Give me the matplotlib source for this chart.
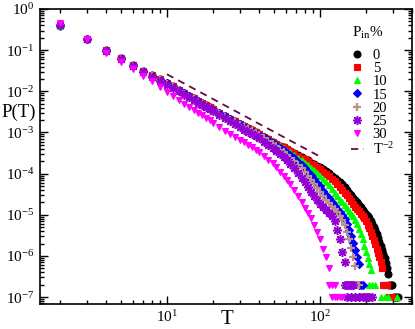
import matplotlib
matplotlib.use("Agg")
import matplotlib.pyplot as plt
import numpy as np
from matplotlib.ticker import LogLocator, NullFormatter

plt.rcParams['font.family'] = ['Liberation Serif', 'DejaVu Serif']
plt.rcParams['mathtext.fontset'] = 'custom'
plt.rcParams['mathtext.rm'] = 'Liberation Serif'
plt.rcParams['mathtext.it'] = 'Liberation Serif:italic'

# shared time grid (each series uses the first len(values) entries)
T = [2, 3, 4, 5, 6, 7, 8, 9, 10, 11, 12, 13, 14, 15, 16, 17, 18, 19, 20,
     22, 24, 26, 28, 30, 32, 34, 36, 38, 40,
     43, 46, 49, 52, 55, 58, 61,
     64, 68, 72, 76, 80, 84, 88, 92, 96, 100,
     105, 110, 115, 120, 125, 130, 135, 140, 145, 150, 155, 160, 165, 170,
     175, 180, 185, 190, 195, 200, 205, 210, 215, 220, 225, 230, 235, 240,
     245, 250, 255, 260, 265, 270, 275, 280]

# log10 P(T)
logp_0 = [-0.41, -0.72, -0.99, -1.19, -1.35, -1.50, -1.61, -1.71, -1.80, -1.88,
          -1.96, -2.04, -2.11, -2.17, -2.23, -2.29, -2.34, -2.39, -2.44,
          -2.52, -2.60, -2.67, -2.73, -2.79, -2.85, -2.90, -2.95, -2.99, -3.04,
          -3.10, -3.16, -3.22, -3.27, -3.32, -3.36, -3.41,
          -3.45, -3.50, -3.55, -3.60, -3.64, -3.68, -3.73, -3.77, -3.81, -3.84,
          -3.89, -3.94, -3.99, -4.05, -4.10, -4.15, -4.20, -4.26, -4.33, -4.40,
          -4.46, -4.52, -4.58, -4.64, -4.70, -4.76, -4.82, -4.88, -4.93, -4.97,
          -5.02, -5.08, -5.15, -5.22, -5.30, -5.38, -5.47, -5.56, -5.66, -5.76,
          -5.86, -5.96, -6.06, -6.18, -6.30, -6.45]
logp_5 = [-0.40, -0.72, -0.99, -1.19, -1.35, -1.50, -1.61, -1.71, -1.80, -1.88,
          -1.96, -2.04, -2.11, -2.17, -2.23, -2.29, -2.34, -2.39, -2.44,
          -2.52, -2.60, -2.67, -2.73, -2.79, -2.85, -2.90, -2.95, -3.00, -3.04,
          -3.10, -3.16, -3.22, -3.27, -3.33, -3.36, -3.41,
          -3.45, -3.51, -3.56, -3.61, -3.65, -3.70, -3.76, -3.80, -3.85, -3.89,
          -3.95, -4.01, -4.06, -4.12, -4.18, -4.25, -4.32, -4.39, -4.46, -4.53,
          -4.60, -4.67, -4.74, -4.80, -4.86, -4.92, -4.97, -5.02, -5.08, -5.15,
          -5.24, -5.33, -5.42, -5.52, -5.62, -5.72, -5.82, -5.92, -6.02, -6.15,
          -6.30]
logp_10 = [-0.41, -0.72, -0.99, -1.19, -1.35, -1.50, -1.61, -1.71, -1.80, -1.88,
           -1.96, -2.04, -2.11, -2.17, -2.23, -2.29, -2.34, -2.39, -2.44,
           -2.52, -2.60, -2.67, -2.73, -2.79, -2.85, -2.90, -2.95, -3.00, -3.04,
           -3.10, -3.17, -3.22, -3.28, -3.34, -3.38, -3.44,
           -3.48, -3.55, -3.61, -3.67, -3.73, -3.79, -3.86, -3.92, -3.99, -4.05,
           -4.13, -4.21, -4.28, -4.37, -4.46, -4.55, -4.63, -4.70, -4.77, -4.84,
           -4.91, -4.97, -5.04, -5.13, -5.23, -5.34, -5.46, -5.60, -5.75, -5.90,
           -6.05, -6.20, -6.35]
logp_15 = [-0.40, -0.72, -1.00, -1.19, -1.35, -1.50, -1.62, -1.72, -1.81, -1.89,
           -1.97, -2.05, -2.12, -2.18, -2.24, -2.30, -2.35, -2.40, -2.45,
           -2.53, -2.61, -2.68, -2.74, -2.80, -2.86, -2.91, -2.96, -3.01, -3.06,
           -3.12, -3.19, -3.25, -3.31, -3.38, -3.43, -3.50,
           -3.55, -3.63, -3.71, -3.79, -3.87, -3.95, -4.04, -4.13, -4.23, -4.31,
           -4.41, -4.51, -4.59, -4.69, -4.78, -4.86, -4.94, -5.01, -5.10, -5.22,
           -5.36, -5.52, -5.68, -5.86, -6.03, -6.20]
logp_20 = [-0.40, -0.72, -1.00, -1.20, -1.36, -1.51, -1.62, -1.72, -1.82, -1.90,
           -1.98, -2.06, -2.13, -2.19, -2.25, -2.31, -2.36, -2.41, -2.46,
           -2.54, -2.62, -2.69, -2.75, -2.81, -2.87, -2.92, -2.97, -3.02, -3.07,
           -3.14, -3.21, -3.28, -3.34, -3.42, -3.47, -3.55,
           -3.61, -3.69, -3.78, -3.87, -3.96, -4.05, -4.16, -4.26, -4.36, -4.44,
           -4.55, -4.64, -4.72, -4.80, -4.87, -4.94, -5.02, -5.12, -5.26, -5.42,
           -5.60, -5.80, -6.02, -6.25]
logp_25 = [-0.40, -0.73, -1.01, -1.22, -1.38, -1.53, -1.65, -1.75, -1.84, -1.92,
           -2.00, -2.08, -2.15, -2.21, -2.28, -2.34, -2.39, -2.44, -2.49,
           -2.58, -2.66, -2.73, -2.80, -2.86, -2.93, -2.99, -3.04, -3.09, -3.14,
           -3.22, -3.30, -3.37, -3.44, -3.52, -3.59, -3.68,
           -3.76, -3.87, -3.99, -4.10, -4.21, -4.32, -4.44, -4.54, -4.65, -4.73,
           -4.82, -4.89, -4.95, -5.03, -5.16, -5.36, -5.60, -5.90, -6.15]
logp_30 = [-0.33, -0.73, -1.06, -1.28, -1.45, -1.62, -1.75, -1.90, -2.02, -2.12,
           -2.21, -2.30, -2.38, -2.45, -2.52, -2.58, -2.64, -2.70, -2.76,
           -2.87, -2.96, -3.04, -3.11, -3.18, -3.24, -3.30, -3.36, -3.42, -3.48,
           -3.57, -3.66, -3.75, -3.85, -3.95, -4.05, -4.15,
           -4.25, -4.40, -4.55, -4.70, -4.83, -4.95, -5.08, -5.25, -5.42, -5.60,
           -5.82, -6.02, -6.30]

# single / double events at the bottom of each distribution
tail_T_0 = [285, 290, 295, 305, 315, 325]
tail_P_0 = [2e-7, 2e-7, 2e-7, 1e-7, 1e-7, 1e-7]
tail_T_5 = [260, 265, 270, 275, 285, 295]
tail_P_5 = [2e-7, 2e-7, 2e-7, 2e-7, 1e-7, 1e-7]
tail_T_10 = [210, 220, 230, 250, 265, 280, 320]
tail_P_10 = [2e-7, 2e-7, 2e-7, 1e-7, 1e-7, 1e-7, 1e-7]
tail_T_15 = [180, 185, 190, 200, 205]
tail_P_15 = [2e-7, 2e-7, 2e-7, 1e-7, 1e-7]
tail_T_20 = [170, 175, 180, 185, 195, 210]
tail_P_20 = [2e-7, 2e-7, 2e-7, 1e-7, 1e-7, 1e-7]
tail_T_25 = [145, 150, 155, 160, 165, 150, 160, 170, 180, 190, 200, 210, 220]
tail_P_25 = [2e-7, 2e-7, 2e-7, 2e-7, 2e-7, 1e-7, 1e-7, 1e-7, 1e-7, 1e-7, 1e-7, 1e-7, 1e-7]
tail_T_30 = [115, 120, 125, 120, 125, 130, 135, 140]
tail_P_30 = [2e-7, 2e-7, 2e-7, 1e-7, 1e-7, 1e-7, 1e-7, 1e-7]

labels = ['0', '5', '10', '15', '20', '25', '30']
colors = ['#000000', '#ff0000', '#00ff00', '#0000ff', '#bc8f8f', '#9400d3', '#ff00ff']
markers = ['o', 's', '^', 'D', '+', (8, 2, 0), 'v']
sizes = [5, 4.6, 5, 4.2, 6, 6.5, 5]

# reference power law T^-2
ref_T = [10, 100]
ref_P = [0.026, 0.00026]

yticks = [1e-7, 1e-6, 1e-5, 1e-4, 1e-3, 1e-2, 1e-1, 1]
xticks = [10, 100]

fig = plt.figure(figsize=(4.15, 3.29), dpi=100)
ax = fig.add_axes([40/415, 1-304/329, 372/415, 295/329])

series = [(logp_0, tail_T_0, tail_P_0), (logp_5, tail_T_5, tail_P_5),
          (logp_10, tail_T_10, tail_P_10), (logp_15, tail_T_15, tail_P_15),
          (logp_20, tail_T_20, tail_P_20), (logp_25, tail_T_25, tail_P_25),
          (logp_30, tail_T_30, tail_P_30)]

for (lp, tt, tp), lab, c, m, s in zip(series, labels, colors, markers, sizes):
    x = np.concatenate([T[:len(lp)], tt])
    y = np.concatenate([10**np.array(lp), tp])
    mew = {'+': 1.6, (8, 2, 0): 1.1}.get(m, 0.8)
    ax.plot(x, y, ls='none', marker=m, ms=s, color=c, mec=c, mew=mew, label=lab)

ax.plot(ref_T, ref_P, ls=(0, (4, 3)), color='#670748', lw=1.3, label='T$^{-2}$')

ax.set_xscale('log')
ax.set_yscale('log')
ax.set_xlim(1.48, 400)
ax.set_ylim(6.8e-8, 1)

ax.set_xticks(xticks)
ax.set_yticks(yticks)
ax.yaxis.set_minor_locator(LogLocator(base=10, subs=np.arange(2, 10), numticks=20))
ax.yaxis.set_minor_formatter(NullFormatter())
ax.xaxis.set_minor_locator(LogLocator(base=10, subs=np.arange(2, 10), numticks=20))
ax.xaxis.set_minor_formatter(NullFormatter())

ax.tick_params(which='both', direction='in', top=True, right=True, width=1, labelsize=11)
ax.tick_params(which='major', length=6, pad=4)
ax.tick_params(which='minor', length=3)
for sp in ax.spines.values():
    sp.set_linewidth(1.2)

ax.set_xlabel('T', fontsize=15)
ax.xaxis.set_label_coords(0.503, -0.02)
ax.set_ylabel('P(T)', fontsize=13.5, rotation=0, ha='center', va='center')
ax.yaxis.set_label_coords(-0.058, 0.65)

leg = ax.legend(loc='upper left', bbox_to_anchor=(0.808, 0.90), frameon=False,
                fontsize=10.5, handlelength=0.9, handletextpad=0.6,
                labelspacing=0.0, borderpad=0.2, markerscale=1.0)
fig.text(368/415, 1-33/329, 'P$_{\\mathrm{in}}$%', fontsize=11, ha='center', va='center')

fig.savefig('out.png', dpi=100)
